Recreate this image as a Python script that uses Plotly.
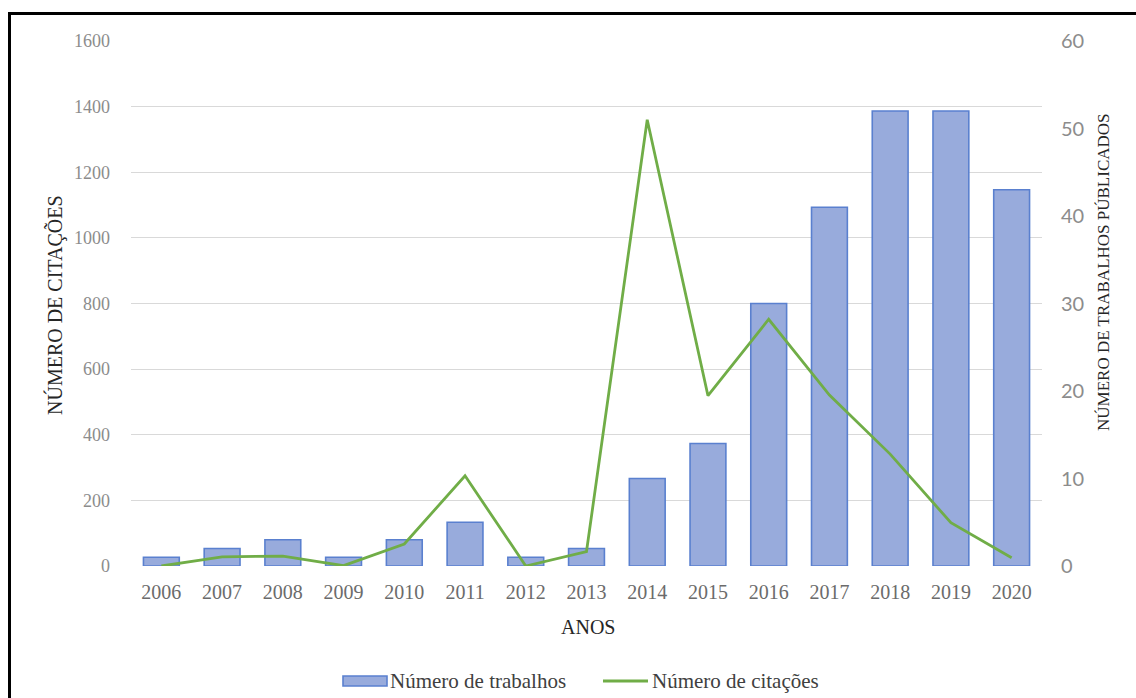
import plotly.graph_objects as go

# Publications and citations per year
anos = ["2006", "2007", "2008", "2009", "2010", "2011", "2012", "2013",
        "2014", "2015", "2016", "2017", "2018", "2019", "2020"]
trabalhos = [1, 2, 3, 1, 3, 5, 1, 2, 10, 14, 30, 41, 52, 52, 43]
citacoes = [0, 28, 30, 1, 67, 275, 0, 44, 1360, 519, 752, 521, 341, 132, 25]

citacoes_ticks = [0, 200, 400, 600, 800, 1000, 1200, 1400, 1600]
trabalhos_ticks = [0, 10, 20, 30, 40, 50, 60]

SERIF = "Liberation Serif, Times New Roman, serif"
SANS = "Lato, Open Sans, sans-serif"
BAR_FILL = "#98ABDC"
BAR_EDGE = "#5A80CF"
LINE_GREEN = "#70AD47"

# plot area in pixels (used to place paper-referenced decorations)
L, R, T, B = 131, 1042, 41, 566


def px(x):
    return (x - L) / (R - L)


def py(y):
    return (B - y) / (B - T)


fig = go.Figure()

# bars on the right-hand axis (drawn first, underneath)
fig.add_trace(go.Bar(
    x=anos, y=trabalhos, name="Número de trabalhos", yaxis="y",
    width=0.59,
    marker=dict(color=BAR_FILL, line=dict(color=BAR_EDGE, width=1.6)),
))

# citations line on the left-hand axis, overlaid on top
fig.add_trace(go.Scatter(
    x=anos, y=citacoes, name="Número de citações", mode="lines", yaxis="y2",
    line=dict(color=LINE_GREEN, width=2.8),
))

annotations = [
    dict(text="NÚMERO DE TRABALHOS PÚBLICADOS", textangle=-90,
         xref="paper", yref="paper", x=px(1103), y=py(272),
         xanchor="center", yanchor="middle", showarrow=False,
         font=dict(family=SERIF, size=17, color="#262626")),
    dict(text="NÚMERO DE CITAÇÕES", textangle=-90,
         xref="paper", yref="paper", x=px(55), y=py(305),
         xanchor="center", yanchor="middle", showarrow=False,
         font=dict(family=SERIF, size=20, color="#262626")),
    dict(text="ANOS", xref="paper", yref="paper", x=px(588), y=py(627),
         xanchor="center", yanchor="middle", showarrow=False,
         font=dict(family=SERIF, size=20, color="#262626")),
    # legend labels
    dict(text="Número de trabalhos", xref="paper", yref="paper", x=px(388), y=py(681),
         xanchor="left", yanchor="middle", showarrow=False,
         font=dict(family=SERIF, size=21, color="#404040")),
    dict(text="Número de citações", xref="paper", yref="paper", x=px(650), y=py(681),
         xanchor="left", yanchor="middle", showarrow=False,
         font=dict(family=SERIF, size=21, color="#404040")),
]

shapes = [
    # frame around the figure
    dict(type="line", xref="paper", yref="paper",
         x0=px(9.5), x1=px(9.5), y0=py(12), y1=py(700),
         line=dict(color="black", width=3)),
    dict(type="line", xref="paper", yref="paper",
         x0=px(8), x1=px(1140), y0=py(13.5), y1=py(13.5),
         line=dict(color="black", width=3)),
    # legend swatches
    dict(type="rect", xref="paper", yref="paper",
         x0=px(343), x1=px(387), y0=py(686), y1=py(676),
         fillcolor=BAR_FILL, line=dict(color=BAR_EDGE, width=1.6)),
    dict(type="line", xref="paper", yref="paper",
         x0=px(603), x1=px(648), y0=py(681), y1=py(681),
         line=dict(color=LINE_GREEN, width=2.8)),
]

fig.update_layout(
    width=1136, height=698,
    margin=dict(l=L, r=1136 - R, t=T, b=698 - B),
    paper_bgcolor="white", plot_bgcolor="white",
    showlegend=False,
    xaxis=dict(
        type="category", showgrid=False, zeroline=False, showline=False,
        ticks="", automargin=False, ticklabelstandoff=12,
        tickfont=dict(family=SERIF, size=20, color="#6b6b6b"),
    ),
    yaxis=dict(
        range=[0, 60], tickvals=trabalhos_ticks, side="right",
        showgrid=False, zeroline=False, showline=False, ticks="", automargin=False,
        tickfont=dict(family=SANS, size=20, color="#8C8C8C"), ticklabelstandoff=18,
    ),
    yaxis2=dict(
        range=[0, 1600], tickvals=citacoes_ticks, overlaying="y", side="left",
        showgrid=True, gridcolor="#D9D9D9", gridwidth=1.3, zeroline=False,
        showline=False, ticks="", automargin=False,
        tickfont=dict(family=SERIF, size=18, color="#8C8C8C"), ticklabelstandoff=20,
    ),
    annotations=annotations,
    shapes=shapes,
)

fig.write_html("out.html")
